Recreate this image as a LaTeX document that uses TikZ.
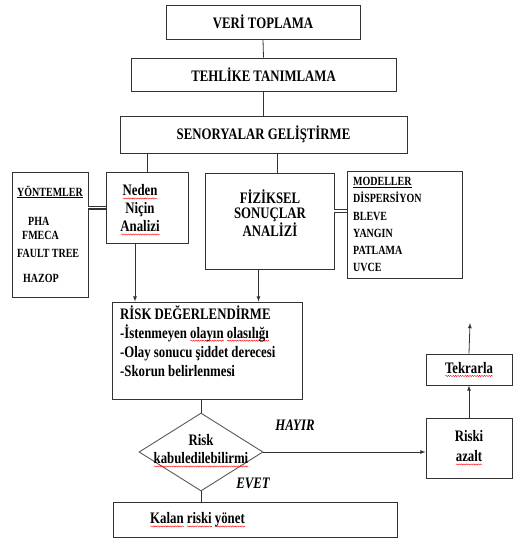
\documentclass[tikz,border=0pt]{standalone}
\usepackage{fontspec}
\setmainfont[FakeStretch=0.8]{Liberation Serif}
\usetikzlibrary{shapes.geometric,decorations.pathmorphing}
\newsavebox\spellbox
\newlength\spellwidth
\newcommand\spellwave[1]{\sbox\spellbox{#1}\setlength\spellwidth{\wd\spellbox}%
  \rlap{\tikz[baseline=0pt,x=1pt,y=1pt]\draw[red, line width=0.4pt, decorate,
    decoration={snake, amplitude=0.6pt, segment length=2.4pt}] (0,-2.6) -- (\spellwidth,-2.6);}%
  \usebox\spellbox}
\newcommand\bigfont{\fontsize{16}{18}\selectfont\bfseries}
\newcommand\smallfont{\fontsize{12.5}{17.3}\selectfont\bfseries}

\begin{document}
\begin{tikzpicture}[x=1pt,y=-1pt,>=latex,
  kutu/.style={draw=black!80, line width=0.9pt, inner sep=0pt, font=\bigfont},
  karar/.style={draw=black!65, line width=0.9pt, diamond, inner sep=0pt},
  yazi/.style={inner sep=0pt, font=\bigfont},
  liste/.style={inner sep=0pt, font=\smallfont, anchor=west},
  esit/.style={double, double distance=1.4pt, line width=1.3pt, draw=black!80},
  baglanti/.style={line width=0.8pt, draw=black!80}]
\useasboundingbox (0,0) rectangle (513,539);

% ust kutular
\node[kutu, minimum width=194pt, minimum height=34pt] (veri) at (263,22) {VERİ TOPLAMA};
\node[kutu, minimum width=265pt, minimum height=33pt] (tehlike) at (263.5,74.5) {TEHLİKE TANIMLAMA};
\node[kutu, minimum width=287pt, minimum height=37pt] (senaryo) at (263.5,134.5) {SENORYALAR GELİŞTİRME};

% orta kutular
\node[kutu, minimum width=76pt, minimum height=125pt] (yontem) at (50,234.5) {};
\node[liste] (ybaslik) at (17,192) {\underline{YÖNTEMLER}};
\node[liste] (pha) at (28,221) {PHA};
\node[liste] (fmeca) at (22,235) {FMECA};
\node[liste] (fault) at (17,253) {FAULT TREE};
\node[liste] (hazop) at (23,278) {HAZOP};

\node[kutu, minimum width=82pt, minimum height=71pt] (neden) at (147,207.5) {};
\node[yazi, align=center] (nedentext) at (140,210) {\spellwave{Neden}\\Niçin\\\spellwave{Analizi}};

\node[kutu, minimum width=129pt, minimum height=96pt] (fiziksel) at (269.5,221) {};
\node[yazi, align=center, font=\fontsize{16}{14.5}\selectfont\bfseries] (fiziktext) at (270,213) {FİZİKSEL\\SONUÇLAR\\ANALİZİ};

\node[kutu, minimum width=115pt, minimum height=107pt] (modeller) at (404.5,224.5) {};
\node[liste, align=left, anchor=north west] (modeltext) at (353,177) {\underline{MODELLER}\\DİSPERSİYON\\BLEVE\\YANGIN\\PATLAMA\\UVCE};

% risk degerlendirme
\node[kutu, minimum width=190pt, minimum height=97pt] (risk) at (207,350.5) {};
\node[yazi, align=left, anchor=north west, font=\fontsize{16}{19}\selectfont\bfseries] (risktext) at (120,305)
  {RİSK DEĞERLENDİRME\\-İstenmeyen \spellwave{olayın}\ \spellwave{olasılığı}\\-Olay sonucu şiddet derecesi\\-Skorun belirlenmesi};

\node[karar, minimum width=124pt, minimum height=78pt] (karar) at (201,452) {};
\node[yazi, align=center] (karartext) at (201,451) {Risk\\\spellwave{kabuledilebilirmi}};

\node[kutu, minimum width=284pt, minimum height=35pt] (kalan) at (255,519.5) {};
\node[yazi, anchor=west] (kalantext) at (150,520) {\spellwave{Kalan} \spellwave{riski} \spellwave{yönet}};

\node[kutu, minimum width=86pt, minimum height=60pt, align=center, font=\fontsize{16}{20}\selectfont\bfseries] (azalt) at (469,448) {Riski\\\spellwave{azalt}};
\node[kutu, minimum width=86pt, minimum height=31pt] (tekrar) at (469,369.5) {\spellwave{Tekrarla}};
\coordinate (tekrarust) at (470,323);

\node[yazi, font=\bigfont\itshape] (hayir) at (295,425) {HAYIR};
\node[yazi, font=\bigfont\itshape] (evet) at (253,483) {EVET};

% baglantilar
\draw[baglanti] (veri.south) -- (tehlike.north);
\draw[baglanti] (tehlike.south) -- (senaryo.north);
\draw[baglanti] (neden.north) -- (neden.north |- senaryo.south);
\draw[baglanti] ([xshift=8pt]fiziksel.north) -- ([xshift=8pt]fiziksel.north |- senaryo.south);
\draw[esit] (yontem.east |- neden.west) -- (neden.west);
\draw[esit] ([yshift=10pt]fiziksel.east) -- ([yshift=10pt]fiziksel.east -| modeller.west);
\draw[baglanti,->] ([xshift=-12pt]neden.south) -- ([xshift=-12pt]neden.south |- risk.north);
\draw[baglanti,->] ([xshift=-11pt]fiziksel.south) -- ([xshift=-11pt]fiziksel.south |- risk.north);
\draw[baglanti] (karar.north |- risk.south) -- (karar.north);
\draw[baglanti] (karar.south) -- (karar.south |- kalan.north);
\draw[baglanti,->] (karar.east) -- (karar.east -| azalt.west);
\draw[baglanti,->] (azalt.north) -- (tekrar.south);
\draw[baglanti,->] (tekrar.north) -- (tekrarust);
\end{tikzpicture}
\end{document}
